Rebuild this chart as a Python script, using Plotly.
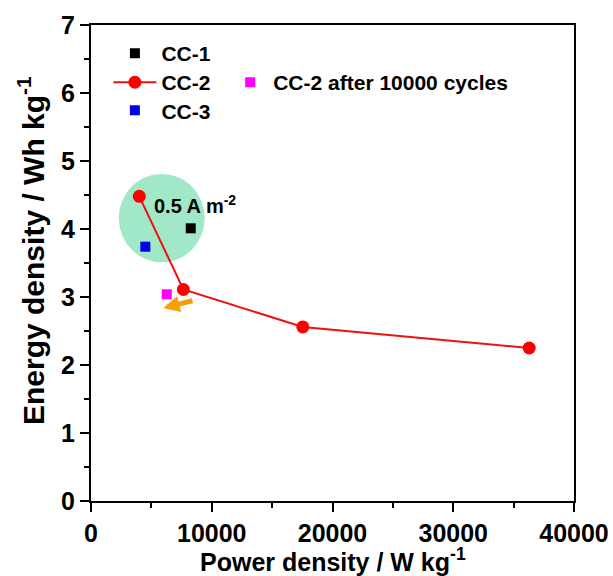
import plotly.graph_objects as go

# Data
cc1_x = [8260]
cc1_y = [4.01]
cc2_x = [4000, 7650, 17540, 36290]
cc2_y = [4.48, 3.11, 2.56, 2.25]
cc3_x = [4500]
cc3_y = [3.74]
cc2_after_x = [6270]
cc2_after_y = [3.04]

circle_center = [5860, 4.16]
circle_radius = [3560, 0.65]
label_pos = [8650, 4.36]
arrow_tail = [8530, 2.95]
arrow_head = [5990, 2.84]

x_ticks = [0, 10000, 20000, 30000, 40000]
y_ticks = [0, 1, 2, 3, 4, 5, 6, 7]

FONT = "Liberation Sans"

fig = go.Figure()

fig.add_shape(type="circle", xref="x", yref="y",
              x0=circle_center[0] - circle_radius[0], x1=circle_center[0] + circle_radius[0],
              y0=circle_center[1] - circle_radius[1], y1=circle_center[1] + circle_radius[1],
              fillcolor="rgb(160,232,200)", line=dict(width=0), layer="below")

fig.add_trace(go.Scatter(x=cc1_x, y=cc1_y, mode="markers", name="CC-1",
                         marker=dict(symbol="square", size=10, color="black"),
                         legend="legend"))
fig.add_trace(go.Scatter(x=cc2_x, y=cc2_y, mode="lines+markers", name="CC-2",
                         line=dict(color="#ee1111", width=2),
                         marker=dict(symbol="circle", size=13, color="#ff0000"),
                         legend="legend3"))
fig.add_trace(go.Scatter(x=cc3_x, y=cc3_y, mode="markers", name="CC-3",
                         marker=dict(symbol="square", size=10, color="#0000ee"),
                         legend="legend4"))
fig.add_trace(go.Scatter(x=cc2_after_x, y=cc2_after_y, mode="markers",
                         name="CC-2 after 10000 cycles",
                         marker=dict(symbol="square", size=10, color="#ff00ff"),
                         legend="legend2"))

fig.add_annotation(x=label_pos[0], y=label_pos[1], xref="x", yref="y",
                   text="0.5 A m<sup>-2</sup>", showarrow=False, xanchor="center",
                   font=dict(family=FONT, size=20, color="black", weight="bold"))

fig.add_annotation(x=arrow_head[0], y=arrow_head[1], ax=arrow_tail[0], ay=arrow_tail[1],
                   xref="x", yref="y", axref="x", ayref="y", text="",
                   showarrow=True, arrowhead=2, arrowsize=0.65, arrowwidth=5,
                   arrowcolor="#f5a000", standoff=0)

# Axis titles as annotations for precise placement
fig.add_annotation(x=0.5, y=0, xref="paper", yref="paper", xanchor="center", yanchor="bottom",
                   yshift=-77, showarrow=False,
                   text="Power density / W kg<sup>-1</sup>",
                   font=dict(family=FONT, size=25, color="black", weight="bold"))
fig.add_annotation(x=0, y=0.5, xref="paper", yref="paper", xanchor="center", yanchor="middle",
                   xshift=-60, yshift=12, textangle=-90, showarrow=False,
                   text="Energy density / Wh kg<sup>-1</sup>",
                   font=dict(family=FONT, size=30, color="black", weight="bold"))

axis_common = dict(showline=True, linewidth=2, linecolor="black", mirror=True,
                   ticks="outside", ticklen=9, tickwidth=2, tickcolor="black",
                   showgrid=False, zeroline=False, automargin=False,
                   tickfont=dict(family=FONT, size=25, color="black", weight="bold"))

fig.update_xaxes(range=[0, 40000], tickvals=x_ticks, ticktext=[str(v) for v in x_ticks],
                 minor=dict(ticks="outside", ticklen=5, tickwidth=2, tickcolor="black", dtick=5000),
                 **axis_common)
fig.update_yaxes(range=[0, 7], tickvals=y_ticks,
                 minor=dict(ticks="outside", ticklen=5, tickwidth=2, tickcolor="black", dtick=0.5),
                 **axis_common)

legend_font = dict(family=FONT, size=21, color="black", weight="bold")
common_leg = dict(xanchor="left", yanchor="top", bgcolor="rgba(0,0,0,0)", font=legend_font)
fig.update_layout(
    width=613, height=576,
    margin=dict(l=91, r=39, t=25, b=75),
    plot_bgcolor="white", paper_bgcolor="white",
    showlegend=True,
    legend=dict(x=0.036, y=0.983, itemwidth=43, **common_leg),
    legend3=dict(x=0.036, y=0.922, itemwidth=43, **common_leg),
    legend4=dict(x=0.036, y=0.863, itemwidth=43, **common_leg),
    legend2=dict(x=0.282, y=0.922, itemwidth=36, **common_leg),
)

fig.write_html("out.html")
